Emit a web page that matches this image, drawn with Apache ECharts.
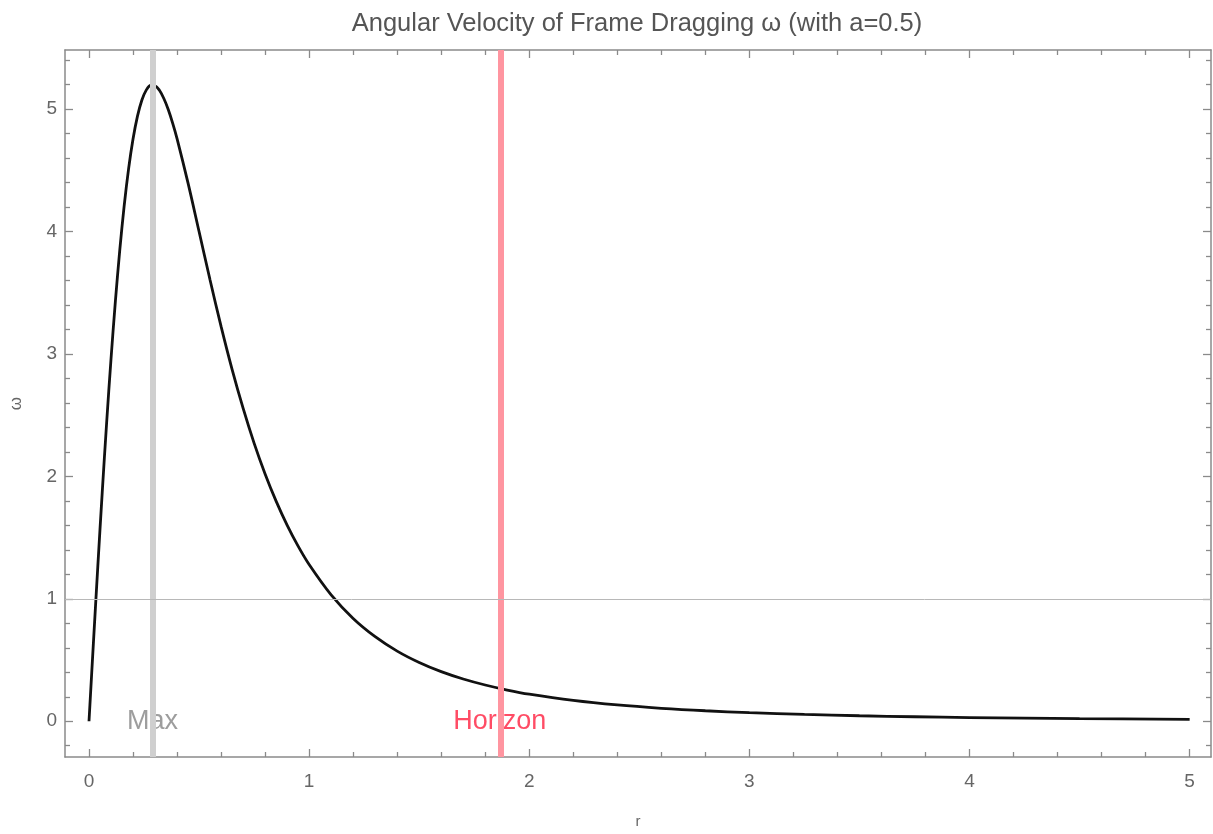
<!DOCTYPE html>
<html>
<head>
<meta charset="utf-8">
<script src="https://cdn.jsdelivr.net/npm/echarts@6/dist/echarts.min.js"></script>
<style>
html,body{margin:0;padding:0;background:#fff;}
#chart{width:1213px;height:834px;}
</style>
</head>
<body>
<div id="chart"></div>
<script>
const rValues = [0, 0.02, 0.04, 0.06, 0.08, 0.10, 0.12, 0.14, 0.16, 0.18, 0.20, 0.22, 0.24, 0.26, 0.28, 0.30, 0.32, 0.34, 0.36, 0.38, 0.40, 0.45, 0.50, 0.55, 0.60, 0.65, 0.70, 0.75, 0.80, 0.85, 0.90, 0.95, 1.00, 1.10, 1.20, 1.30, 1.40, 1.50, 1.60, 1.70, 1.80, 1.90, 2.00, 2.20, 2.40, 2.60, 2.80, 3.00, 3.25, 3.50, 3.75, 4.00, 4.50, 5.00];
const omegaValues = [0, 0.638, 1.264, 1.866, 2.434, 2.959, 3.433, 3.852, 4.213, 4.514, 4.756, 4.941, 5.073, 5.155, 5.193, 5.190, 5.154, 5.087, 4.997, 4.886, 4.759, 4.395, 4.000, 3.604, 3.225, 2.874, 2.557, 2.272, 2.020, 1.798, 1.602, 1.430, 1.280, 1.032, 0.840, 0.691, 0.573, 0.480, 0.405, 0.345, 0.296, 0.255, 0.221, 0.170, 0.133, 0.106, 0.0856, 0.0701, 0.0556, 0.0448, 0.0366, 0.0303, 0.0214, 0.0157];
const maxR = 0.289;
const horizonR = 1.866;
const refLevel = 1;
const xMajorTicks = [0, 1, 2, 3, 4, 5];
const xMinorTicks = [0.2,0.4,0.6,0.8,1.2,1.4,1.6,1.8,2.2,2.4,2.6,2.8,3.2,3.4,3.6,3.8,4.2,4.4,4.6,4.8];
const yMajorTicks = [0, 1, 2, 3, 4, 5];
const yMinorTicks = [-0.2,0.2,0.4,0.6,0.8,1.2,1.4,1.6,1.8,2.2,2.4,2.6,2.8,3.2,3.4,3.6,3.8,4.2,4.4,4.6,4.8,5.2,5.4];
const xRange = [-0.109, 5.097];
const yRange = [-0.292, 5.483];
const labelTexts = ['Max', 'Horizon'];

const frameColor = '#8a8a8a';
const labelColor = '#666';
const FONT = 'Liberation Sans, Arial, sans-serif';

function xAxisDef(pos, ticks, len, showLine, showLabels, name) {
  return {
    type: 'value', position: pos, min: xRange[0], max: xRange[1],
    axisLine: {show: showLine, onZero: false, lineStyle: {color: frameColor, width: 1.5}},
    axisTick: {show: true, inside: true, length: len, customValues: ticks, lineStyle: {color: frameColor, width: 1.3}},
    axisLabel: showLabels ? {show: true, customValues: ticks, margin: 15, fontSize: 19, color: labelColor, fontFamily: FONT} : {show: false},
    splitLine: {show: false},
    name: name || '', nameLocation: 'middle', nameGap: 57,
    nameTextStyle: {fontSize: 15, color: labelColor, fontFamily: FONT}
  };
}
function yAxisDef(pos, ticks, len, showLine, showLabels, name) {
  return {
    type: 'value', position: pos, min: yRange[0], max: yRange[1],
    axisLine: {show: showLine, onZero: false, lineStyle: {color: frameColor, width: 1.5}},
    axisTick: {show: true, inside: true, length: len, customValues: ticks, lineStyle: {color: frameColor, width: 1.3}},
    axisLabel: showLabels ? {show: true, customValues: ticks, margin: 8, fontSize: 19, color: labelColor, fontFamily: FONT} : {show: false},
    splitLine: {show: false},
    name: name || '', nameLocation: 'middle', nameGap: 40, nameRotate: 90,
    nameTextStyle: {fontSize: 17, color: labelColor, fontFamily: FONT}
  };
}

const chart = echarts.init(document.getElementById('chart'), null, {renderer: 'canvas'});
chart.setOption({
  backgroundColor: '#fff',
  animation: false,
  title: {
    text: 'Angular Velocity of Frame Dragging ω (with a=0.5)',
    left: 632, textAlign: 'center', top: 6,
    textStyle: {fontSize: 25.5, fontWeight: 'normal', color: '#555', fontFamily: FONT}
  },
  grid: {left: 60, right: 2, top: 50, bottom: 73, containLabel: false},
  xAxis: [
    xAxisDef('bottom', xMajorTicks, 8, true, true, 'r'),
    xAxisDef('bottom', xMinorTicks, 5, false, false),
    xAxisDef('top', xMajorTicks, 8, true, false),
    xAxisDef('top', xMinorTicks, 5, false, false)
  ],
  yAxis: [
    yAxisDef('left', yMajorTicks, 8, true, true, 'ω'),
    yAxisDef('left', yMinorTicks, 5, false, false),
    yAxisDef('right', yMajorTicks, 8, true, false),
    yAxisDef('right', yMinorTicks, 5, false, false)
  ],
  series: [
    {
      type: 'line', data: [], z: 1, silent: true,
      markLine: {
        silent: true, symbol: ['none', 'none'], animation: false,
        label: {show: false},
        data: [
          {xAxis: maxR, lineStyle: {color: '#cfcfcf', width: 6, type: 'solid'}},
          {xAxis: horizonR, lineStyle: {color: '#ff95a0', width: 6, type: 'solid'}},
          {yAxis: refLevel, lineStyle: {color: '#b8b8b8', width: 1, type: 'solid'}}
        ]
      }
    },
    {
      type: 'line', z: 3, silent: true,
      data: rValues.map((r, i) => [r, omegaValues[i]]),
      showSymbol: false, symbol: 'none',
      lineStyle: {color: '#111', width: 2.8},
      smooth: 0.35
    },
    {
      type: 'scatter', z: 4, silent: true,
      symbolSize: 1,
      itemStyle: {color: 'rgba(0,0,0,0)'},
      data: [
        {value: [maxR, 0], label: {formatter: labelTexts[0], color: '#858585'}},
        {value: [horizonR, 0], label: {formatter: labelTexts[1], color: '#ff1f3f'}}
      ],
      label: {show: true, position: 'inside', fontSize: 27, fontFamily: FONT}
    }
  ]
});
</script>
</body>
</html>
